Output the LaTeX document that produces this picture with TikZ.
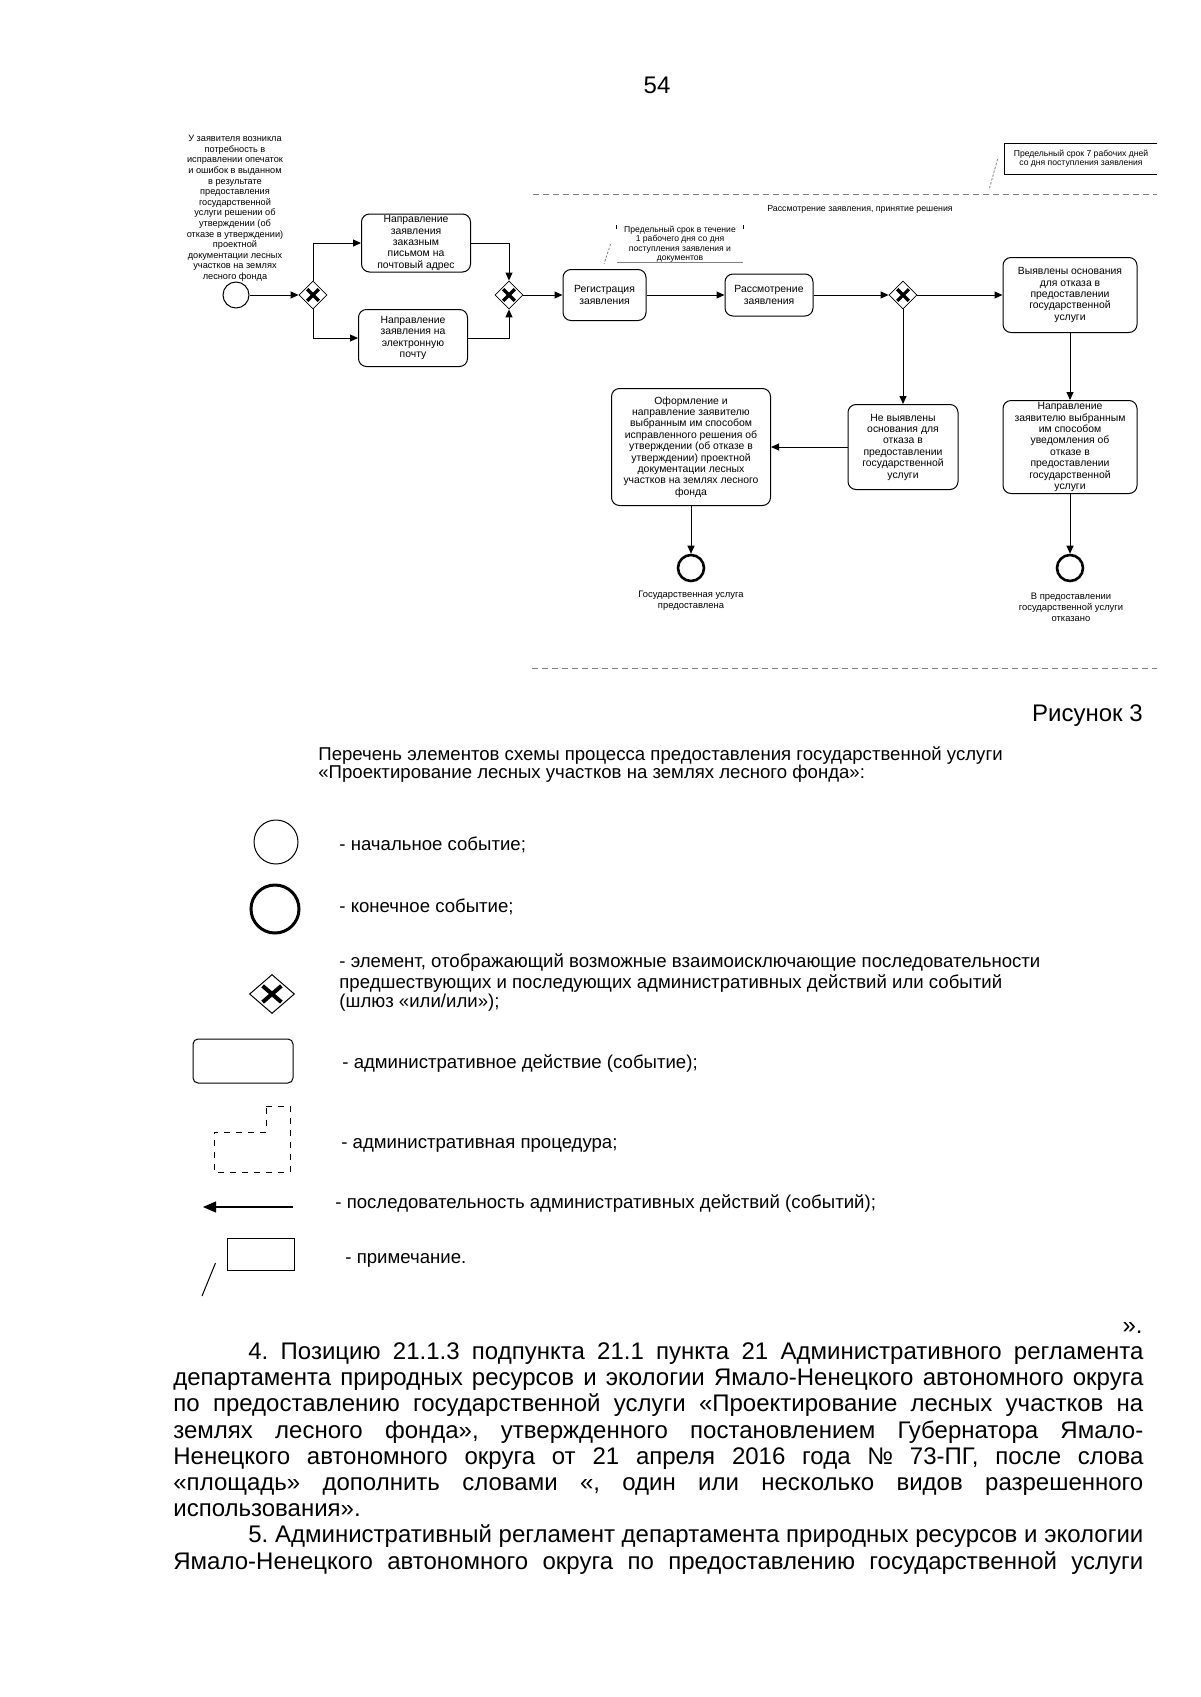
\documentclass[tikz,border=0pt]{standalone}
\usepackage{fontspec}
\setmainfont{Liberation Sans}
\usetikzlibrary{shapes.geometric,arrows.meta,calc}

\newcommand{\fsz}[2]{\fontsize{#1pt}{#2pt}\selectfont}
% bold cross inside a gateway diamond
\newcommand{\gwcross}[1]{%
  \draw[line width=#1] ($(path picture bounding box.center)!0.42!(path picture bounding box.north west)$) -- ($(path picture bounding box.center)!0.42!(path picture bounding box.south east)$);
  \draw[line width=#1] ($(path picture bounding box.center)!0.42!(path picture bounding box.north east)$) -- ($(path picture bounding box.center)!0.42!(path picture bounding box.south west)$);}

\begin{document}
\frenchspacing
\begin{tikzpicture}[x=0.5pt, y=-0.5pt,
  every node/.style={inner sep=0pt},
  task/.style={draw, rounded corners=4pt, align=center, line width=0.5pt, font=\fsz{5.2}{5.7}},
  gw/.style={draw, diamond, minimum size=14pt, line width=0.4pt, path picture={\gwcross{1.6pt}}},
  lgw/.style={draw, diamond, minimum width=22.5pt, minimum height=19.5pt, line width=0.5pt, path picture={\gwcross{2pt}}},
  evstart/.style={draw, circle, minimum size=13pt, line width=0.5pt},
  evend/.style={draw, circle, minimum size=13pt, line width=1.3pt},
  flow/.style={-{Triangle[length=4pt,width=3.5pt]}, line width=0.5pt},
  assoc/.style={gray, dash pattern=on 1.2pt off 0.8pt, line width=0.4pt},
  lane/.style={gray, dash pattern=on 3pt off 2pt, line width=0.5pt},
  small/.style={align=center, font=\fsz{4.6}{5.3}},
  legend/.style={anchor=base west, font=\fsz{9.3}{10}},
  body/.style={anchor=base west, font=\fsz{12}{13}}
]
\path[use as bounding box, fill=white] (0,0) rectangle (1200,1697);

\node[font=\fsz{12}{13}] (page) at (657,85) {54};

% process diagram
\draw[lane] (533,194) -- (1157,194);
\draw[lane] (532,668) -- (1157,668);
\node[font=\fsz{4.4}{5}] (lanename) at (860,209) {Рассмотрение заявления, принятие решения};

\node[font=\fsz{4.3}{4.6}, align=center, minimum width=76pt, minimum height=15pt] (n1) at (1081,159) {Предельный срок 7 рабочих дней\\со дня поступления заявления};
\draw[line width=0.4pt] (n1.north east) -- (n1.north west) -- (n1.south west) -- (n1.south east);
\coordinate (a1) at (989,190);
\draw[assoc] ([xshift=-3.5pt]n1.west) -- (a1);

\node[small, anchor=north] (starttext) at (235,135) {У заявителя возникла\\потребность в\\исправлении опечаток\\и ошибок в выданном\\в результате\\предоставления\\государственной\\услуги решении об\\утверждении (об\\отказе в утверждении)\\проектной\\документации лесных\\участков на землях\\лесного фонда};
\node[evstart] (s0) at (236,295) {};
\node[gw] (gw1) at (313,295) {};
\node[task, minimum width=54.5pt, minimum height=29pt] (post) at (416,243) {Направление\\заявления\\заказным\\письмом на\\почтовый адрес};
\node[task, minimum width=54.5pt, minimum height=28.5pt] (mail) at (413,338) {Направление\\заявления на\\электронную\\почту};
\node[gw] (gw2) at (509,295) {};
\node[task, minimum width=41.5pt, minimum height=25.5pt] (reg) at (604.5,295) {Регистрация\\заявления};
\node[task, minimum width=44pt, minimum height=21pt] (rass) at (769,295) {Рассмотрение\\заявления};
\node[gw] (gw3) at (903,295) {};
\node[task, minimum width=67pt, minimum height=37.5pt] (found) at (1070,295) {Выявлены основания\\для отказа в\\предоставлении\\государственной\\услуги};
\node[task, minimum width=55pt, minimum height=42.5pt] (notfound) at (903,447) {Не выявлены\\основания для\\отказа в\\предоставлении\\государственной\\услуги};
\node[task, minimum width=67pt, minimum height=46.5pt] (refuse) at (1070,447) {Направление\\заявителю выбранным\\им способом\\уведомления об\\отказе в\\предоставлении\\государственной\\услуги};
\node[task, minimum width=79.5pt, minimum height=58.5pt] (issue) at (691,447) {Оформление и\\направление заявителю\\выбранным им способом\\исправленного решения об\\утверждении (об отказе в\\утверждении) проектной\\документации лесных\\участков на землях лесного\\фонда};
\node[evend] (end1) at (691,568) {};
\node[evend] (end2) at (1070,568) {};
\node[small, font=\fsz{4.7}{5.5}] (end1text) at (691,601) {Государственная услуга\\предоставлена};
\node[small, font=\fsz{4.7}{5.5}] (end2text) at (1071,607) {В предоставлении\\государственной услуги\\отказано};

\node[font=\fsz{4.3}{4.7}, align=center, minimum width=63pt, minimum height=18pt] (n2) at (680,244) {Предельный срок в течение\\1 рабочего дня со дня\\поступления заявления и\\документов};
\draw[gray, line width=0.4pt] (n2.south west) -- (n2.south east);
\draw[line width=0.3pt] (n2.north west) -- ++(0,-2pt);
\draw[line width=0.3pt] (n2.north east) -- ++(0,-2pt);
\coordinate (a2) at (604,264);
\draw[assoc] ([xshift=-3pt]n2.west) -- (a2);

\draw[flow] (s0) -- (gw1);
\draw[flow] (gw1.north) |- (post);
\draw[flow] (gw1.south) |- (mail);
\draw[flow] (post) -| (gw2);
\draw[flow] (mail) -| (gw2);
\draw[flow] (gw2) -- (reg);
\draw[flow] (reg) -- (rass);
\draw[flow] (rass) -- (gw3);
\draw[flow] (gw3) -- (found);
\draw[flow] (gw3) -- (notfound);
\draw[flow] (found) -- (refuse);
\draw[flow] (notfound) -- (issue);
\draw[flow] (issue) -- (end1);
\draw[flow] (refuse) -- (end2);

\node[font=\fsz{12}{13}, anchor=base east] (fig) at (1143,721) {Рисунок 3};

% legend
\node[legend] (title1) at (318,760) {Перечень элементов схемы процесса предоставления государственной услуги};
\node[legend] (title2) at (318,778) {«Проектирование лесных участков на землях лесного фонда»:};

\node[draw, circle, minimum size=22pt, line width=0.5pt] (lstart) at (276,842) {};
\node[legend] (lstarttext) at (339,850) {- начальное событие;};
\node[draw, circle, minimum size=24pt, line width=1.5pt] (lend) at (275,909) {};
\node[legend] (lendtext) at (339,912) {- конечное событие;};
\node[lgw] (lgate) at (272,994) {};
\node[legend] (lgate1) at (339,967) {- элемент, отображающий возможные взаимоисключающие последовательности};
\node[legend] (lgate2) at (339,988) {предшествующих и последующих административных действий или событий};
\node[legend] (lgate3) at (339,1007) {(шлюз «или/или»);};
\node[draw, rounded corners=2.5pt, minimum width=50pt, minimum height=22pt, line width=0.5pt] (ltask) at (243,1061) {};
\node[legend] (ltasktext) at (342,1068) {- административное действие (событие);};
\draw[dashed, line width=0.5pt] (266,1106) -- (290,1106) -- (290,1172) -- (214,1172) -- (214,1132) -- (266,1132) -- cycle;
\node[legend] (lproctext) at (341,1148) {- административная процедура;};
\coordinate (la1) at (293,1207);
\coordinate (la2) at (203,1207);
\draw[-{Triangle[length=6.5pt,width=5.5pt]}, line width=0.6pt] (la1) -- (la2);
\node[legend] (lflowtext) at (335,1208) {- последовательность административных действий (событий);};
\node[draw, minimum width=33.5pt, minimum height=16pt, line width=0.5pt] (lnote) at (260.5,1254) {};
\coordinate (lnc) at (202,1296);
\draw[line width=0.5pt] ([shift={(-5.5pt,-4.5pt)}]lnote.west) -- (lnc);
\node[legend] (lnotetext) at (345,1263) {- примечание.};

% body text
\node[body, anchor=base east] (quote) at (1143,1333) {».};
\node[body] (l1) at (248,1359) {\makebox[447.5pt][s]{4. Позицию 21.1.3 подпункта 21.1 пункта 21 Административного регламента}};
\node[body] (l2) at (173,1385) {\makebox[485pt][s]{департамента природных ресурсов и экологии Ямало-Ненецкого автономного округа}};
\node[body] (l3) at (173,1411) {\makebox[485pt][s]{по предоставлению государственной услуги «Проектирование лесных участков на}};
\node[body] (l4) at (173,1438) {\makebox[485pt][s]{землях лесного фонда», утвержденного постановлением Губернатора Ямало-}};
\node[body] (l5) at (173,1464) {\makebox[485pt][s]{Ненецкого автономного округа от 21 апреля 2016 года № 73-ПГ, после слова}};
\node[body] (l6) at (173,1490) {\makebox[485pt][s]{«площадь» дополнить словами «, один или несколько видов разрешенного}};
\node[body] (l7) at (173,1516) {использования».};
\node[body] (l8) at (248,1542) {\makebox[447.5pt][s]{5. Административный регламент департамента природных ресурсов и экологии}};
\node[body] (l9) at (173,1569) {\makebox[485pt][s]{Ямало-Ненецкого автономного округа по предоставлению государственной услуги}};
\end{tikzpicture}
\end{document}
